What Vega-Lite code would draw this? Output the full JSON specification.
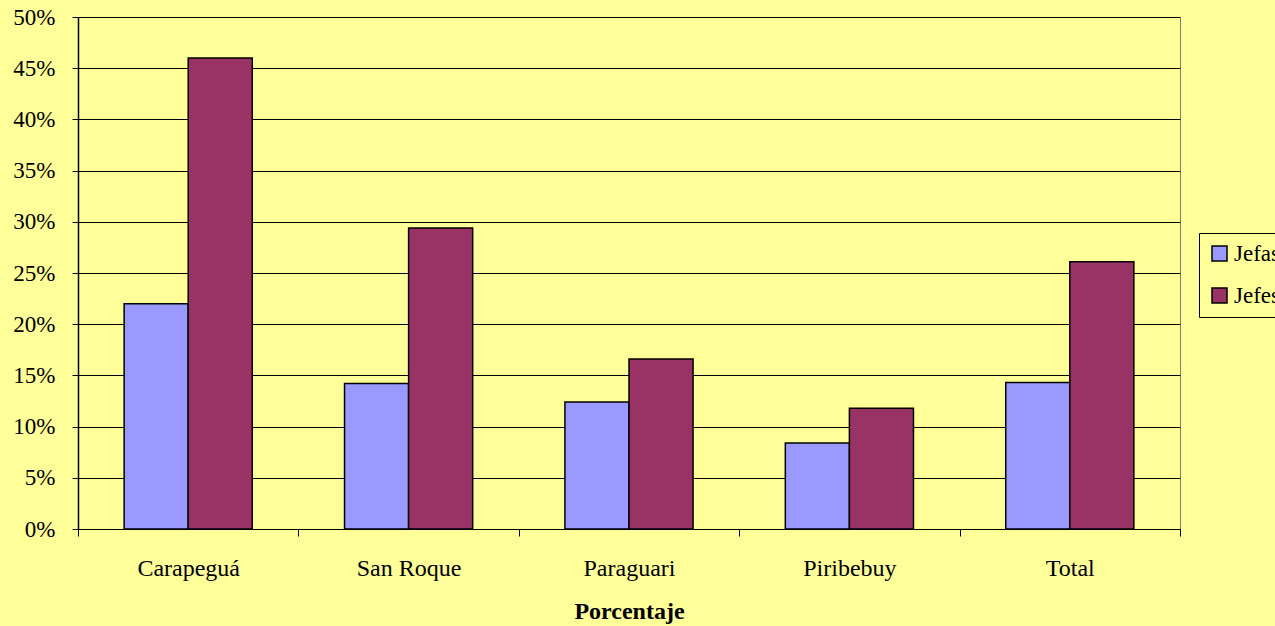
{
  "$schema": "https://vega.github.io/schema/vega-lite/v6.json",
  "autosize": "none",
  "width": 1102,
  "height": 512,
  "padding": {"left": 78, "top": 17, "right": 95, "bottom": 97},
  "background": "#FFFF99",
  "config": {
    "font": "Liberation Serif",
    "view": {"stroke": "#808080", "strokeWidth": 1},
    "axis": {"labelFont": "Liberation Serif", "titleFont": "Liberation Serif", "labelColor": "black", "titleColor": "black", "domainColor": "black", "tickColor": "black"}
  },
  "data": {
    "values": [
      {"municipio": "Carapeguá", "grupo": "Jefas", "valor": 0.220},
      {"municipio": "Carapeguá", "grupo": "Jefes", "valor": 0.460},
      {"municipio": "San Roque", "grupo": "Jefas", "valor": 0.142},
      {"municipio": "San Roque", "grupo": "Jefes", "valor": 0.294},
      {"municipio": "Paraguari", "grupo": "Jefas", "valor": 0.124},
      {"municipio": "Paraguari", "grupo": "Jefes", "valor": 0.166},
      {"municipio": "Piribebuy", "grupo": "Jefas", "valor": 0.084},
      {"municipio": "Piribebuy", "grupo": "Jefes", "valor": 0.118},
      {"municipio": "Total", "grupo": "Jefas", "valor": 0.143},
      {"municipio": "Total", "grupo": "Jefes", "valor": 0.261}
    ]
  },
  "mark": {"type": "bar", "stroke": "black", "strokeWidth": 1.5},
  "encoding": {
    "x": {
      "field": "municipio", "type": "nominal",
      "sort": ["Carapeguá", "San Roque", "Paraguari", "Piribebuy", "Total"],
      "scale": {"paddingInner": 0, "paddingOuter": 0},
      "axis": {"title": "Porcentaje", "titleFontSize": 24, "titleFontWeight": "bold", "titlePadding": 19, "labelFontSize": 24, "labelPadding": 20, "labelAngle": 0, "tickBand": "extent", "tickSize": 7, "grid": false, "domainWidth": 1}
    },
    "xOffset": {"field": "grupo", "type": "nominal", "sort": ["Jefas", "Jefes"], "scale": {"paddingInner": 0, "paddingOuter": 0.72}},
    "y": {
      "field": "valor", "type": "quantitative",
      "scale": {"domain": [0, 0.5], "nice": false},
      "axis": {"title": null, "format": ".0%", "values": [0, 0.05, 0.1, 0.15, 0.2, 0.25, 0.3, 0.35, 0.4, 0.45, 0.5], "labelFontSize": 23, "labelPadding": 17, "tickSize": 6, "grid": true, "gridColor": "black", "gridOpacity": 1, "gridWidth": 1, "domainWidth": 1.5}
    },
    "color": {
      "field": "grupo", "type": "nominal",
      "scale": {"domain": ["Jefas", "Jefes"], "range": ["#9999FF", "#993366"]},
      "legend": {
        "title": null, "orient": "none", "legendX": 1121, "legendY": 216,
        "symbolType": "square", "symbolSize": 225, "symbolStrokeColor": "black", "symbolStrokeWidth": 1.5, "symbolOpacity": 1,
        "labelFontSize": 23, "labelFont": "Liberation Serif", "labelColor": "black", "rowPadding": 18, "labelOffset": 3,
        "padding": 9, "strokeColor": "black", "fillColor": "#FFFF99"
      }
    }
  }
}
